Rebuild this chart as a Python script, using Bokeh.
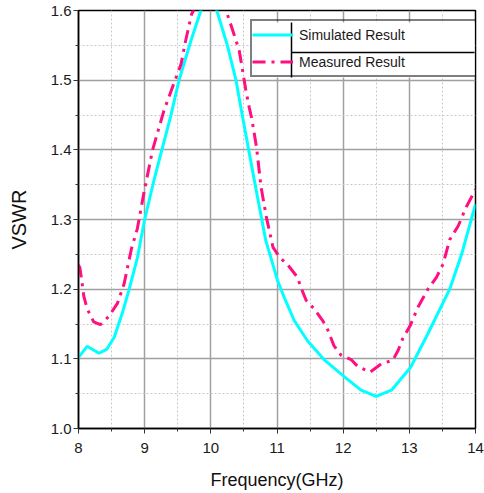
from bokeh.plotting import figure
from bokeh.models import (FixedTicker, NumeralTickFormatter, Legend, LegendItem,
                          Range1d)
from bokeh.embed import file_html
from bokeh.resources import INLINE

# ---- data ----
sim_x = [8.0, 8.13, 8.31, 8.43, 8.54, 8.66, 8.76, 8.89, 9.0, 9.14, 9.26, 9.39,
         9.52, 9.7, 9.85, 9.97, 10.09, 10.25, 10.38, 10.48, 10.65, 10.83, 11.01,
         11.11, 11.26, 11.46, 11.72, 12.02, 12.27, 12.5, 12.73, 13.02, 13.28,
         13.61, 13.79, 14.0]
sim_y = [1.102, 1.118, 1.108, 1.114, 1.131, 1.165, 1.198, 1.245, 1.30, 1.356,
         1.40, 1.447, 1.50, 1.557, 1.60, 1.625, 1.60, 1.55, 1.50, 1.447, 1.36,
         1.27, 1.212, 1.188, 1.155, 1.126, 1.098, 1.074, 1.055, 1.046, 1.055,
         1.088, 1.136, 1.20, 1.25, 1.322]

meas_x = [8.0, 8.02, 8.05, 8.08, 8.13, 8.23, 8.33, 8.46, 8.59, 8.69, 8.8, 8.89,
          8.99, 9.12, 9.29, 9.44, 9.55, 9.62, 9.71, 9.97, 10.23, 10.35, 10.43,
          10.48, 10.53, 10.58, 10.62, 10.69, 10.76, 10.84, 10.94, 11.04, 11.17,
          11.31, 11.36, 11.44, 11.56, 11.69, 11.77, 11.86, 11.97, 12.12, 12.22,
          12.41, 12.58, 12.75, 12.83, 12.9, 13.02, 13.13, 13.28, 13.41, 13.51,
          13.61, 13.74, 13.86, 14.0]
meas_y = [1.235, 1.231, 1.212, 1.19, 1.172, 1.153, 1.149, 1.161, 1.18, 1.208,
          1.258, 1.287, 1.339, 1.40, 1.456, 1.495, 1.523, 1.557, 1.595, 1.64,
          1.60, 1.566, 1.542, 1.514, 1.485, 1.461, 1.444, 1.404, 1.346, 1.303,
          1.26, 1.246, 1.234, 1.217, 1.203, 1.184, 1.172, 1.155, 1.141, 1.119,
          1.105, 1.099, 1.089, 1.081, 1.093, 1.098, 1.112, 1.129, 1.149, 1.174,
          1.2, 1.217, 1.236, 1.271, 1.291, 1.318, 1.343]

x_ticks = [8, 9, 10, 11, 12, 13, 14]
x_minor = [8.5, 9.5, 10.5, 11.5, 12.5, 13.5]
y_ticks = [1.0, 1.1, 1.2, 1.3, 1.4, 1.5, 1.6]
y_minor = [1.05, 1.15, 1.25, 1.35, 1.45, 1.55]

labels = ["Simulated Result", "Measured Result"]
x_label = "Frequency(GHz)"
y_label = "VSWR"

TICK_FONT = "Liberation Sans"
LABEL_FONT = "Liberation Sans"

# layout (pixels)
W, H = 484, 493
B_LEFT, B_RIGHT, B_TOP, B_BOTTOM = 78, 9, 10, 65
FRAME_W = W - B_LEFT - B_RIGHT
FRAME_H = H - B_TOP - B_BOTTOM
X0, X1 = x_ticks[0], x_ticks[-1]
Y0, Y1 = y_ticks[0], y_ticks[-1]

def px_to_x(px):
    return X0 + (px - B_LEFT) * (X1 - X0) / FRAME_W

def py_to_y(py):
    return Y0 + (B_TOP + FRAME_H - py) * (Y1 - Y0) / FRAME_H

p = figure(width=W, height=H, output_backend="svg", toolbar_location=None,
           x_range=Range1d(X0, X1), y_range=Range1d(Y0, Y1),
           min_border_left=B_LEFT, min_border_right=B_RIGHT,
           min_border_top=B_TOP, min_border_bottom=B_BOTTOM,
           background_fill_color="white", border_fill_color="white")

p.outline_line_color = "black"
p.outline_line_width = 1.5

for ax in (p.xaxis[0], p.yaxis[0]):
    ax.axis_line_color = "black"
    ax.axis_line_width = 1.5
    ax.major_tick_line_color = "#333333"
    ax.minor_tick_line_color = "#333333"
    ax.major_tick_out = 5
    ax.major_tick_in = 0
    ax.minor_tick_out = 3
    ax.minor_tick_in = 0
    ax.major_label_text_font = TICK_FONT
    ax.major_label_text_font_size = "15px"
    ax.major_label_text_color = "#1a1a1a"
    ax.axis_label_text_font = LABEL_FONT
    ax.axis_label_text_font_style = "normal"
    ax.axis_label_text_color = "#111111"

p.xaxis.ticker = FixedTicker(ticks=x_ticks, minor_ticks=x_minor)
p.yaxis.ticker = FixedTicker(ticks=y_ticks, minor_ticks=y_minor)
p.yaxis.formatter = NumeralTickFormatter(format="0.0")
p.xaxis.major_label_standoff = 9
p.yaxis.major_label_standoff = 2
p.xaxis.axis_label = x_label
p.yaxis.axis_label = y_label
p.xaxis.axis_label_text_font_size = "18px"
p.yaxis.axis_label_text_font_size = "20px"
p.xaxis.axis_label_standoff = 14
p.yaxis.axis_label_standoff = 18

for g in (p.xgrid[0], p.ygrid[0]):
    g.grid_line_color = "#a0a0a0"
    g.grid_line_width = 1.5
    g.minor_grid_line_color = "#c8c8c8"
    g.minor_grid_line_width = 1
    g.minor_grid_line_dash = "2 2"

sim = p.line(sim_x, sim_y, line_color="#00ffff", line_width=3)
meas = p.line(meas_x, meas_y, line_color="#ff0f80", line_width=3,
              line_dash="13 6 3 6")

# legend box: page pixels left 250, top 22, right 474, bottom 77
LG_L, LG_T, LG_R, LG_B, LG_SEP_X, LG_SEP_Y = 250, 22, 474, 77, 291, 52

# white legend background and table separators (drawn as glyphs, under the legend)
p.quad(left=[px_to_x(LG_L)], right=[px_to_x(LG_R)],
       top=[py_to_y(LG_T)], bottom=[py_to_y(LG_B)],
       fill_color="white", line_alpha=0)
p.segment(x0=[px_to_x(LG_SEP_X), px_to_x(LG_SEP_X)],
          y0=[py_to_y(LG_T), py_to_y(LG_SEP_Y)],
          x1=[px_to_x(LG_SEP_X), px_to_x(LG_R)],
          y1=[py_to_y(LG_B), py_to_y(LG_SEP_Y)],
          line_color="black", line_width=1.5)

legend = Legend(items=[LegendItem(label=labels[0], renderers=[sim]),
                       LegendItem(label=labels[1], renderers=[meas])],
                location=(LG_L - B_LEFT, B_TOP + FRAME_H - LG_B),
                orientation="vertical",
                border_line_color="black", border_line_width=2,
                background_fill_alpha=0,
                padding=0, margin=0, spacing=0,
                glyph_width=LG_SEP_X - LG_L, glyph_height=27, label_height=27,
                label_standoff=6, label_width=LG_R - LG_SEP_X - 6,
                label_text_font=TICK_FONT, label_text_font_size="14px",
                label_text_color="#1a1a1a")
p.add_layout(legend)

open("out.html", "w").write(file_html(p, INLINE))
